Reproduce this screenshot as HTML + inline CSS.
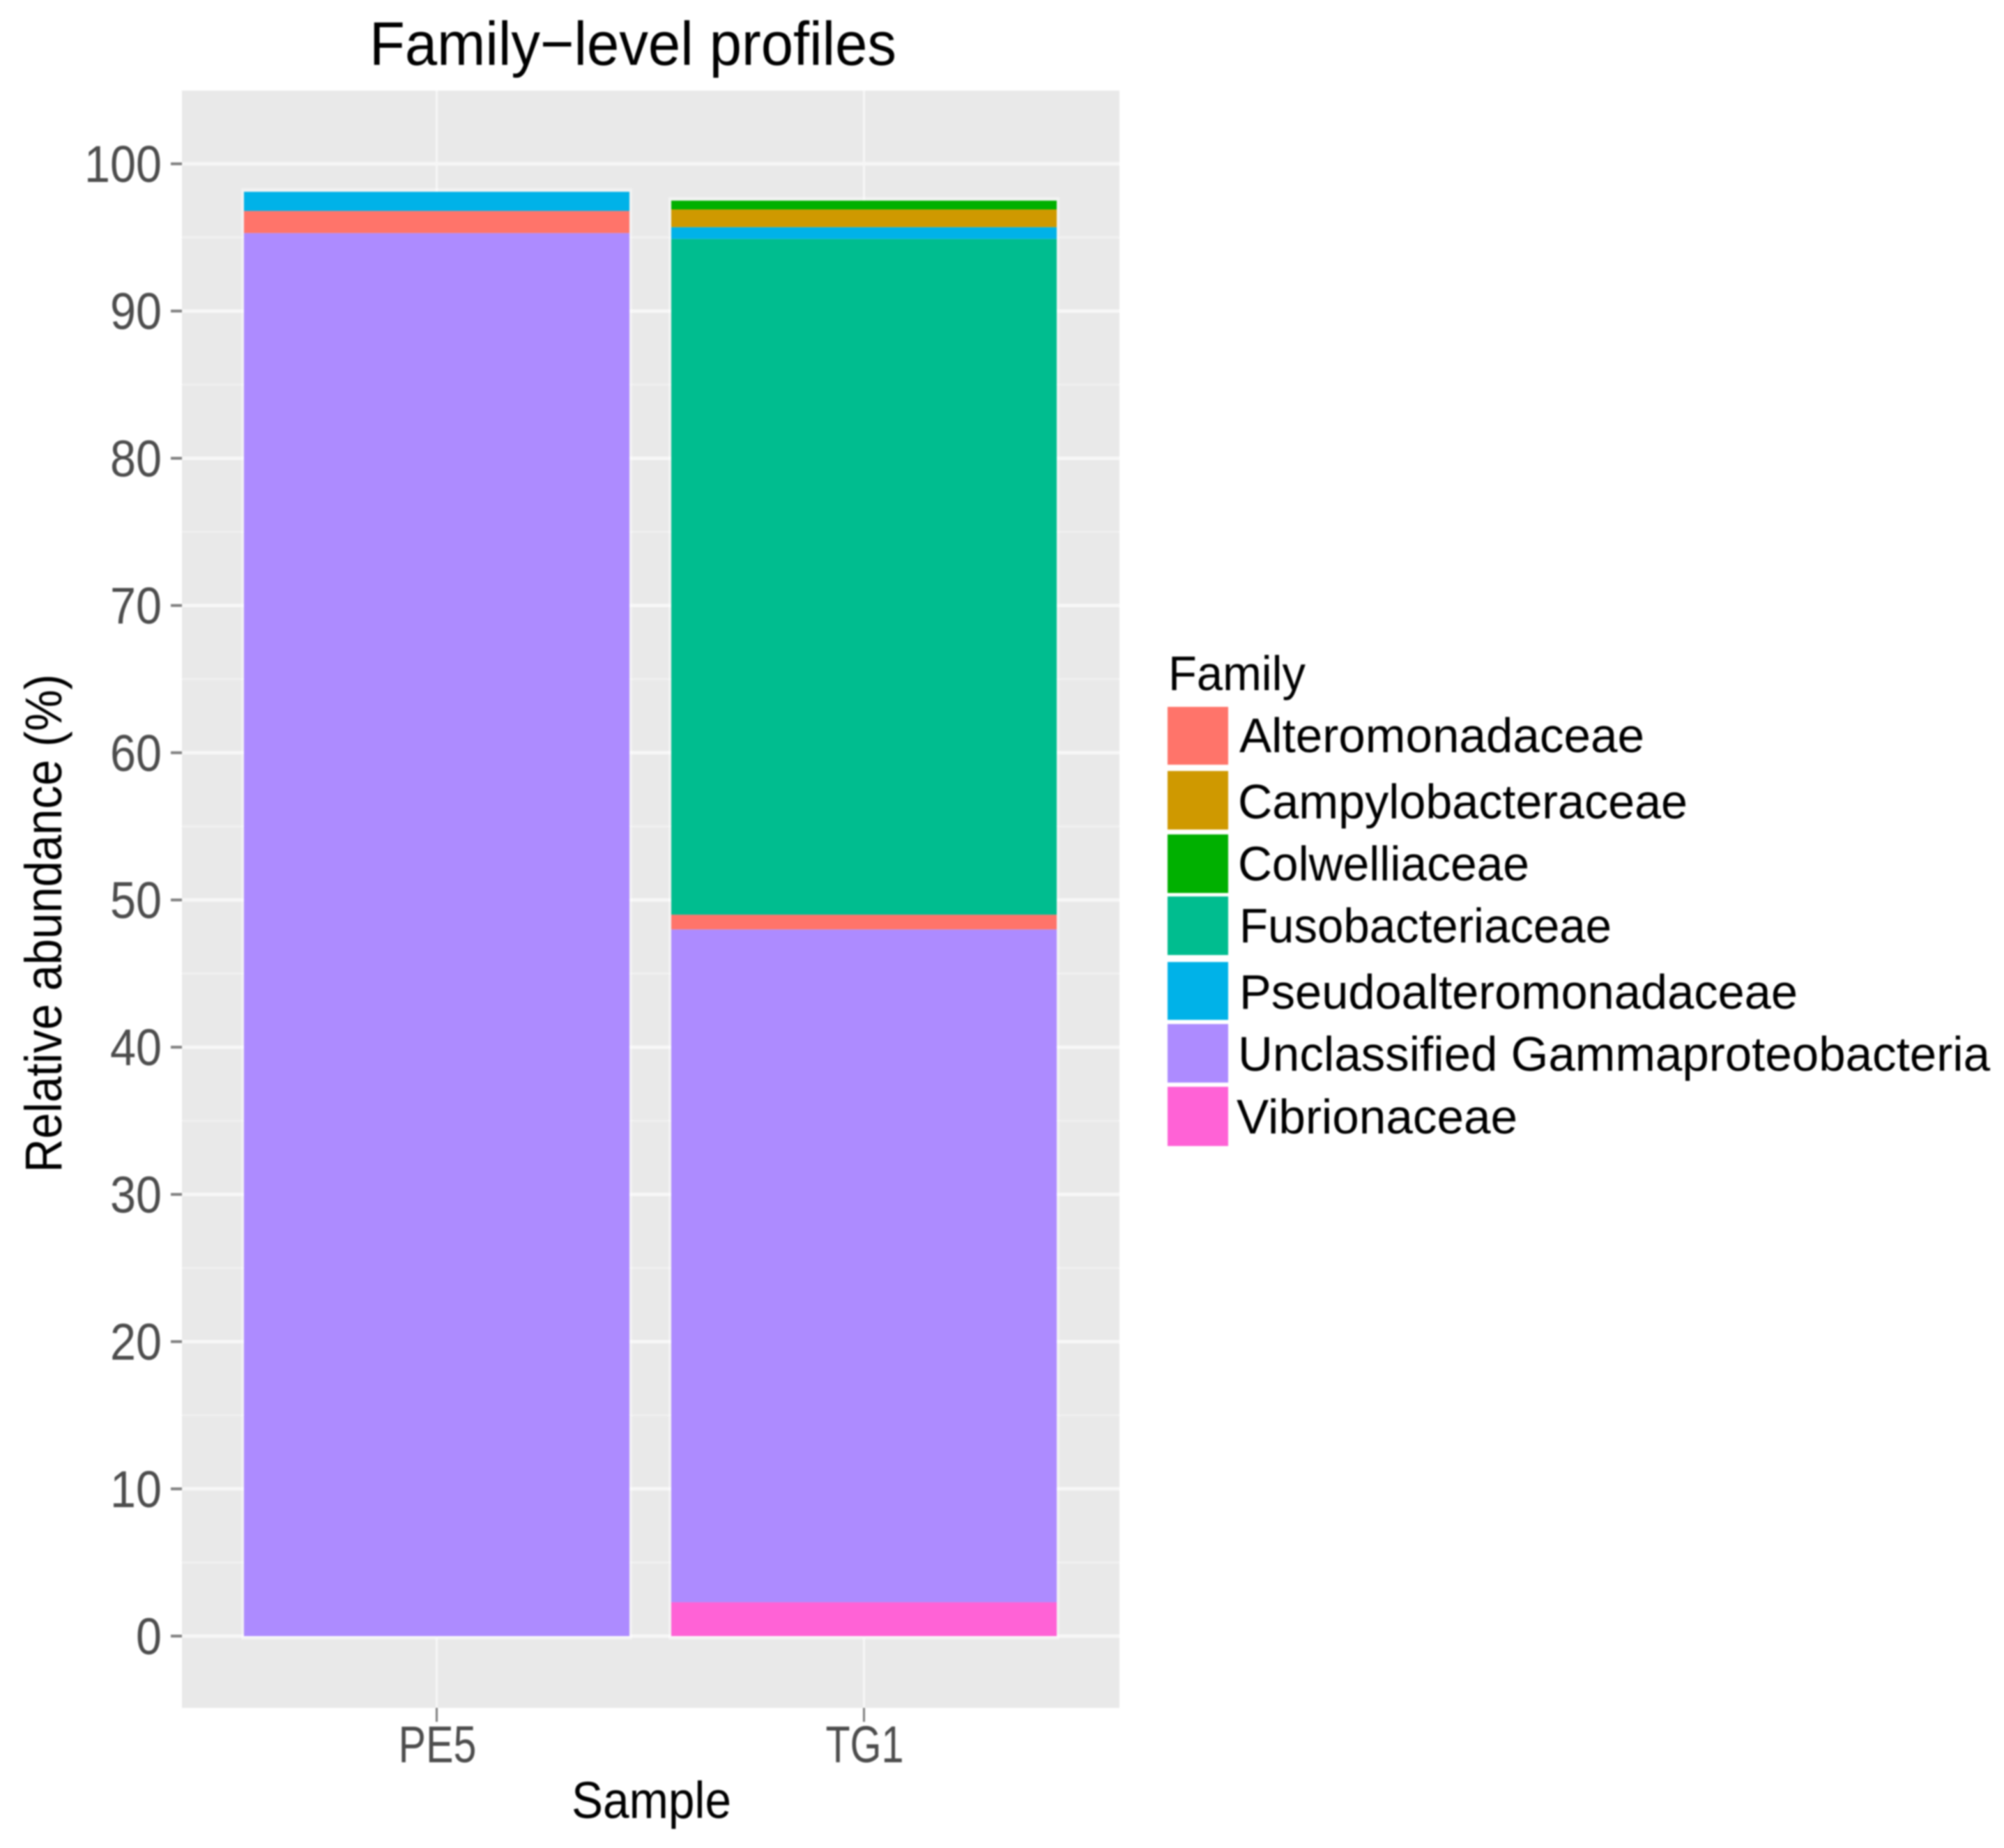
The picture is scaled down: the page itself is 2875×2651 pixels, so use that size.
<!DOCTYPE html>
<html lang="en">
<head>
<meta charset="utf-8">
<title>Family-level profiles</title>
<style>
  html, body { margin: 0; padding: 0; background: #fff; }
  #chart { display: block; width: 2875px; height: 2651px; filter: blur(1.1px); }
  text { font-family: "Liberation Sans", sans-serif; }
</style>
</head>
<body>
<svg id="chart" xmlns="http://www.w3.org/2000/svg" width="2875" height="2651" viewBox="0 0 2875 2651">
  <rect x="0" y="0" width="2875" height="2651" fill="#ffffff"/>
  <text x="530" y="93" font-size="88" fill="#000" textLength="756" lengthAdjust="spacingAndGlyphs">Family−level profiles</text>
  <rect x="261" y="130" width="1345" height="2320" fill="#e9e9e9"/>
  <g id="grid"></g>
  <g id="bars"></g>
  <g id="y-axis"></g>
  <g id="x-axis"></g>
  <text transform="translate(88,1682) rotate(-90)" font-size="74" fill="#000" textLength="715" lengthAdjust="spacingAndGlyphs">Relative abundance (%)</text>
  <text x="820" y="2608" font-size="74" fill="#000" textLength="229" lengthAdjust="spacingAndGlyphs">Sample</text>

  <g>
    <text x="1676" y="990" font-size="70" fill="#000" textLength="197" lengthAdjust="spacingAndGlyphs">Family</text>

    <g>
      <rect x="1675" y="1014" width="87" height="83" fill="#ff746a"/>
      <text x="1778" y="1079" font-size="70" fill="#000" textLength="581" lengthAdjust="spacingAndGlyphs">Alteromonadaceae</text>
    </g>
    <g>
      <rect x="1675" y="1106" width="87" height="84" fill="#cf9900"/>
      <text x="1776" y="1174" font-size="70" fill="#000" textLength="645" lengthAdjust="spacingAndGlyphs">Campylobacteraceae</text>
    </g>
    <g>
      <rect x="1675" y="1197" width="87" height="84" fill="#00b000"/>
      <text x="1776" y="1263" font-size="70" fill="#000" textLength="418" lengthAdjust="spacingAndGlyphs">Colwelliaceae</text>
    </g>
    <g>
      <rect x="1675" y="1286" width="87" height="84" fill="#00bd8f"/>
      <text x="1778" y="1352" font-size="70" fill="#000" textLength="534" lengthAdjust="spacingAndGlyphs">Fusobacteriaceae</text>
    </g>
    <g>
      <rect x="1675" y="1380" width="87" height="83" fill="#00b2e8"/>
      <text x="1778" y="1447" font-size="70" fill="#000" textLength="801" lengthAdjust="spacingAndGlyphs">Pseudoalteromonadaceae</text>
    </g>
    <g>
      <rect x="1675" y="1469" width="87" height="84" fill="#ad8bff"/>
      <text x="1776" y="1536" font-size="70" fill="#000" textLength="1079" lengthAdjust="spacingAndGlyphs">Unclassified Gammaproteobacteria</text>
    </g>
    <g>
      <rect x="1675" y="1559" width="87" height="85" fill="#ff62d6"/>
      <text x="1774" y="1626" font-size="70" fill="#000" textLength="403" lengthAdjust="spacingAndGlyphs">Vibrionaceae</text>
    </g>
  </g>
</svg>

<script>
// Chart data
const samples = ['PE5', 'TG1'];
const stackOrder = ['Vibrionaceae', 'Unclassified Gammaproteobacteria', 'Alteromonadaceae', 'Fusobacteriaceae', 'Pseudoalteromonadaceae', 'Campylobacteraceae', 'Colwelliaceae'];
const pe5Values = [0, 95.3, 1.5, 0, 1.3, 0, 0];
const tg1Values = [2.3, 45.7, 1.0, 45.9, 0.8, 1.2, 0.6];
const familyColors = ['#ff62d6', '#ad8bff', '#ff746a', '#00bd8f', '#00b2e8', '#cf9900', '#00b000'];
const yMajorTicks = [0, 10, 20, 30, 40, 50, 60, 70, 80, 90, 100];
const yMinorTicks = [5, 15, 25, 35, 45, 55, 65, 75, 85, 95];

const SVG_NS = 'http://www.w3.org/2000/svg';
const sampleValues = [pe5Values, tg1Values];

// Axis functions
function yScale(v) { return 2347 - v * 21.12; }
function xCenter(i) { return 626.5 + i * 613; }
const BAR_WIDTH = 553;

function make(tag, parent, attrs) {
  const el = document.createElementNS(SVG_NS, tag);
  for (const k in attrs) el.setAttribute(k, attrs[k]);
  parent.appendChild(el);
  return el;
}

const grid = document.getElementById('grid');
const bars = document.getElementById('bars');
const yAxis = document.getElementById('y-axis');
const xAxis = document.getElementById('x-axis');

yMinorTicks.forEach(function (t) {
  const line = make('line', grid, { x1: 261, x2: 1606, y1: yScale(t), y2: yScale(t), stroke: '#f0f0f0', 'stroke-width': 3 });
  
  
});

yMajorTicks.forEach(function (t) {
  const line = make('line', grid, { x1: 261, x2: 1606, y1: yScale(t), y2: yScale(t), stroke: '#f7f7f7', 'stroke-width': 5 });
  
  

  const tick = make('line', yAxis, { x1: 245, x2: 261, y1: yScale(t), y2: yScale(t), stroke: '#7f7f7f', 'stroke-width': 4 });
  
  

  const label = make('text', yAxis, { x: 232, y: yScale(t) + 26, 'font-size': 74, fill: '#4d4d4d', 'text-anchor': 'end', textLength: String(t).length * 37, lengthAdjust: 'spacingAndGlyphs' });
  label.textContent = t;
  
  
});

samples.forEach(function (name, i) {
  const cx = xCenter(i);

  const vline = make('line', grid, { x1: cx, x2: cx, y1: 130, y2: 2450, stroke: '#f6f6f6', 'stroke-width': 3.5 });
  
  

  const tick = make('line', xAxis, { x1: cx, x2: cx, y1: 2450, y2: 2470, stroke: '#7f7f7f', 'stroke-width': 3 });
  
  

  const label = make('text', xAxis, { x: cx + 1, y: 2528, 'font-size': 74, fill: '#4d4d4d', 'text-anchor': 'middle', textLength: 112, lengthAdjust: 'spacingAndGlyphs' });
  label.textContent = name;
  
  

  // Stack the segments bottom-up
  const values = sampleValues[i];
  const total = values.reduce(function (a, b) { return a + b; }, 0);

  const halo = make('rect', bars, { x: cx - BAR_WIDTH / 2 - 4, y: yScale(total) - 5, width: BAR_WIDTH + 8, height: yScale(0) - yScale(total) + 10, fill: '#ffffff', 'fill-opacity': 0.4 });
  
  

  let base = 0;
  values.forEach(function (v, j) {
    if (v <= 0) return;
    const top = base + v;
    const seg = make('rect', bars, { x: cx - BAR_WIDTH / 2, y: yScale(top), width: BAR_WIDTH, height: yScale(base) - yScale(top), fill: familyColors[j] });
    
    
    base = top;
  });
});
</script>
</body>
</html>
